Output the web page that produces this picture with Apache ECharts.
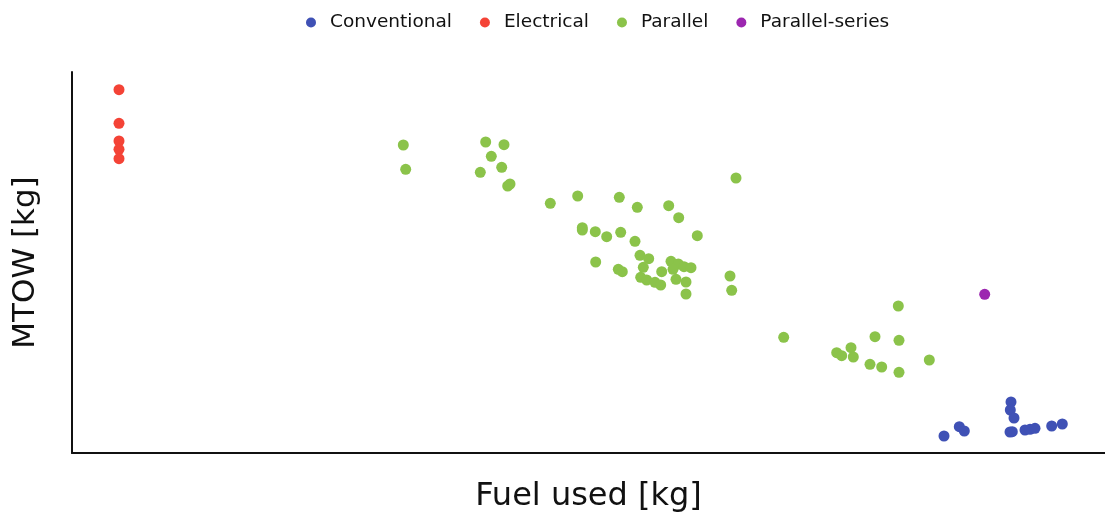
<!DOCTYPE html>
<html>
<head>
<meta charset="utf-8">
<script src="https://cdn.jsdelivr.net/npm/echarts@6/dist/echarts.min.js"></script>
<style>html,body{margin:0;padding:0;background:#fff;}#c{width:1105px;height:515px;}</style>
</head>
<body>
<div id="c"></div>
<script>
// Values in arbitrary plot units (no tick labels in the original)
const seriesNames = ["Conventional", "Electrical", "Parallel", "Parallel-series"];

const conventional = [
  [872, 17], [887.3, 26.3], [892.3, 22], [939, 51], [938.3, 43], [942, 35],
  [938, 21], [940.3, 21.3], [953, 23], [958, 23.7], [963, 24.7], [979.7, 27], [990.3, 29]
];
const electrical = [
  [47, 363.3], [47, 329.7], [47, 312], [47, 303.7], [47, 294.3]
];
const parallel = [
  [331.3, 308], [333.7, 283.7],
  [413.7, 311], [432, 308.3], [419.3, 296.7], [429.7, 285.7], [408.3, 280.7], [435.7, 267], [438, 269],
  [478.3, 249.7], [505.7, 257], [547.3, 255.7], [565.3, 245.7], [596.7, 247.3], [606.7, 235.3], [664, 275],
  [510.3, 225.3], [510.3, 223], [523.3, 221.3], [534.7, 216.3], [548.7, 220.7], [563, 211.7], [625.3, 217.3],
  [523.7, 191], [546.3, 183.7], [550.3, 181.3], [568, 197.7], [576.7, 194.3], [571.3, 185.7],
  [568.7, 175.7], [574.7, 173], [583, 170.7], [588.7, 168], [589.7, 181.3], [599, 191.7], [606.3, 189],
  [612, 186.3], [619, 185.3], [601, 183.7], [604, 173.7], [614, 171], [614, 159], [658, 177], [659.7, 162.7],
  [711.7, 115.7], [826.3, 147], [803, 116.3], [827, 112.7], [779, 105.3], [764.7, 100.3], [769.7, 97.3],
  [781.3, 96], [798, 88.7], [809.7, 86], [827, 80.7], [857.3, 93]
];
const parallelSeries = [
  [912.7, 158.7]
];

const colors = ["#3F51B5", "#F44336", "#8BC34A", "#9C27B0"];
const dataSets = [conventional, electrical, parallel, parallelSeries];

const chart = echarts.init(document.getElementById('c'), null, {renderer: 'canvas'});
chart.setOption({
  animation: false,
  color: colors,
  legend: {
    top: 8,
    left: 301,
    itemGap: 28,
    itemWidth: 28,
    itemHeight: 10,
    icon: 'circle',
    textStyle: {fontFamily: 'DejaVu Sans', fontSize: 18.5, color: '#111'},
    data: seriesNames
  },
  grid: {left: 72, top: 72, right: 0, bottom: 62, containLabel: false, outerBoundsMode: 'none'},
  xAxis: {
    type: 'value', min: 0, max: 1033,
    name: 'Fuel used [kg]', nameLocation: 'middle', nameGap: 28,
    nameTextStyle: {fontFamily: 'DejaVu Sans', fontSize: 32, color: '#111'},
    axisLine: {show: true, lineStyle: {color: '#111', width: 2}},
    axisTick: {show: false}, axisLabel: {show: false}, splitLine: {show: false}
  },
  yAxis: {
    type: 'value', min: 0, max: 381,
    name: 'MTOW [kg]', nameLocation: 'middle', nameGap: 31, nameRotate: 90,
    nameTextStyle: {fontFamily: 'DejaVu Sans', fontSize: 31, color: '#111'},
    axisLine: {show: true, lineStyle: {color: '#111', width: 2}},
    axisTick: {show: false}, axisLabel: {show: false}, splitLine: {show: false}
  },
  series: seriesNames.map((n, i) => ({
    name: n, type: 'scatter', symbol: 'circle', symbolSize: 11,
    itemStyle: {color: colors[i], opacity: 1},
    data: dataSets[i]
  }))
});
</script>
</body>
</html>
